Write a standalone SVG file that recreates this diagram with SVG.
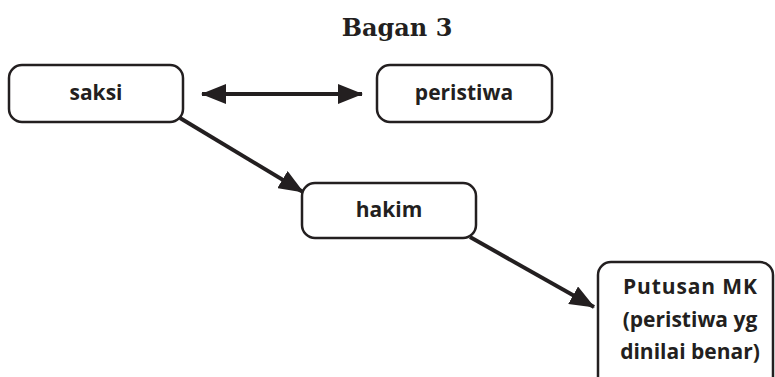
<svg xmlns="http://www.w3.org/2000/svg" width="775" height="377" viewBox="0 0 775 377">
<style>
.box{fill:#fff;stroke:#231f20;stroke-width:2.5}
.lbl{font-family:"Open Sans","Liberation Sans",sans-serif;font-weight:bold;font-size:21px;fill:#231f20;text-anchor:middle}
.con{stroke:#231f20;stroke-width:4;fill:none}
</style>
<defs>
<marker id="ah" viewBox="0 0 25 20" refX="24" refY="10" markerWidth="25" markerHeight="20" orient="auto-start-reverse" markerUnits="userSpaceOnUse">
<path d="M0,0 L25,10 L0,20 z" fill="#231f20"/>
</marker>
</defs>
<rect width="775" height="377" fill="#fff"/>
<text x="397" y="36" font-family="DejaVu Serif,serif" font-weight="bold" font-size="24" fill="#231f20" text-anchor="middle">Bagan 3</text>
<g id="connectors">
<line class="con" x1="202" y1="94" x2="362" y2="94" marker-start="url(#ah)" marker-end="url(#ah)"/>
<line class="con" x1="180" y1="118" x2="303" y2="192" marker-end="url(#ah)"/>
<line class="con" x1="470" y1="237" x2="594" y2="307" marker-end="url(#ah)"/>
</g>
<g id="saksi">
<rect class="box" x="9" y="65" width="174" height="57" rx="13"/>
<text class="lbl" x="96" y="100">saksi</text>
</g>
<g id="peristiwa">
<rect class="box" x="377" y="65" width="175" height="57" rx="13"/>
<text class="lbl" x="464" y="100">peristiwa</text>
</g>
<g id="hakim">
<rect class="box" x="302" y="183" width="174" height="55" rx="13"/>
<text class="lbl" x="389" y="217">hakim</text>
</g>
<g id="putusan">
<rect class="box" x="598" y="262" width="175" height="130" rx="13"/>
<text class="lbl" x="690" y="294" textLength="134">Putusan MK</text>
<text class="lbl" x="690" y="327">(peristiwa yg</text>
<text class="lbl" x="690" y="359">dinilai benar)</text>
</g>
</svg>
